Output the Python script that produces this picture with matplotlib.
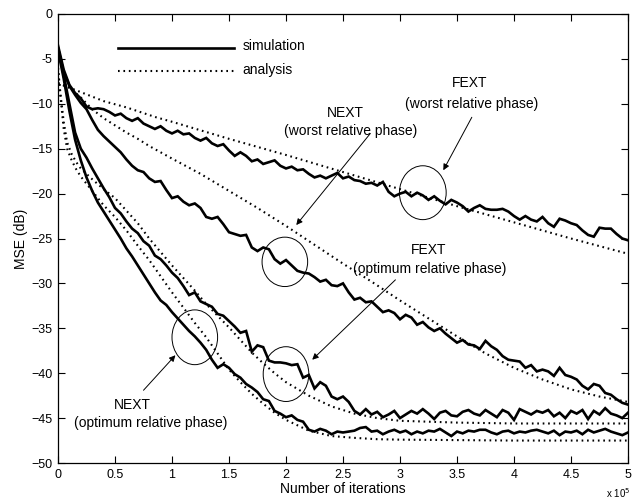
import numpy as np
import matplotlib
matplotlib.use("Agg")
import matplotlib.pyplot as plt
from matplotlib.patches import Ellipse

plt.rcParams['font.family'] = ['Liberation Sans', 'DejaVu Sans']

# ---------------- data (x in units of 1e5 iterations) ----------------
x_sim = np.linspace(0, 5, 101)

fext_worst_sim = [
    -3.5, -6.2, -7.9, -8.8, -9.4, -10.3, -10.6, -10.5, -10.6, -10.9,
    -11.3, -11.1, -11.6, -11.9, -11.6, -12.2, -12.5, -12.8, -12.5, -13.0,
    -13.3, -13.0, -13.4, -13.3, -13.8, -14.1, -13.8, -14.4, -14.7, -14.5,
    -15.2, -15.8, -15.4, -15.8, -16.4, -16.2, -16.7, -16.5, -16.3, -16.9,
    -17.2, -17.0, -17.4, -17.3, -17.8, -18.2, -18.0, -18.3, -18.0, -17.7,
    -18.3, -18.1, -18.5, -18.6, -18.9, -18.8, -19.1, -18.7, -19.8, -20.3,
    -20.0, -19.8, -20.3, -19.9, -20.2, -20.7, -20.3, -20.8, -21.2, -20.7,
    -21.0, -21.4, -22.0, -21.6, -21.3, -21.7, -21.8, -21.8, -21.7, -22.0,
    -22.5, -22.9, -22.5, -22.9, -23.1, -22.6, -23.3, -23.7, -22.8, -23.0,
    -23.3, -23.5, -24.1, -24.6, -24.8, -23.8, -23.9, -23.9, -24.5, -25.0,
    -25.2]

next_worst_sim = [
    -3.8, -6.5, -8.0, -9.0, -9.9, -10.6, -11.8, -12.9, -13.6, -14.2,
    -14.8, -15.4, -16.2, -16.9, -17.4, -17.6, -18.3, -18.7, -18.6, -19.6,
    -20.5, -20.3, -20.9, -21.3, -21.1, -21.6, -22.6, -22.8, -22.6, -23.4,
    -24.3, -24.5, -24.7, -24.6, -26.0, -26.4, -26.0, -26.2, -27.3, -27.8,
    -27.4, -28.0, -28.6, -28.8, -28.9, -29.3, -29.8, -29.6, -30.2, -30.3,
    -30.0, -31.0, -31.8, -31.6, -32.1, -32.0, -32.6, -33.2, -33.0, -33.3,
    -34.0, -33.5, -33.8, -34.6, -34.3, -34.9, -35.3, -35.0, -35.6, -36.1,
    -36.6, -36.3, -36.8, -36.9, -37.3, -36.4, -37.0, -37.4, -38.1, -38.5,
    -38.6, -38.7, -39.4, -39.1, -39.8, -39.6, -39.8, -40.3, -39.4, -40.2,
    -40.4, -40.7, -41.4, -41.8, -41.2, -41.4, -42.2, -42.4, -42.9, -43.3,
    -43.5]

fext_opt_sim = [
    -3.8, -6.8, -10.0, -13.2, -15.0, -16.0, -17.2, -18.3, -19.4, -20.4,
    -21.6, -22.2, -23.1, -23.9, -24.4, -25.3, -25.8, -26.9, -27.3, -28.0,
    -28.8, -29.4, -30.3, -31.3, -31.0, -32.0, -32.3, -32.6, -33.4, -33.6,
    -34.2, -34.8, -35.5, -35.3, -37.6, -36.9, -37.1, -38.6, -38.8, -38.8,
    -38.9, -39.1, -39.0, -40.5, -40.2, -41.7, -41.0, -41.4, -42.6, -42.9,
    -42.6, -43.2, -44.2, -44.6, -44.0, -44.6, -44.3, -44.9, -44.6, -44.2,
    -45.0, -44.6, -44.2, -44.5, -44.0, -44.5, -45.1, -44.4, -44.2, -44.7,
    -44.8, -44.3, -44.1, -44.5, -44.7, -44.1, -44.5, -44.9, -44.1, -44.4,
    -45.2, -44.0, -44.3, -44.6, -44.2, -44.4, -44.1, -44.8, -44.4, -45.0,
    -44.2, -44.5, -44.1, -45.1, -44.2, -44.6, -43.9, -44.5, -44.7, -45.0,
    -44.4]

next_opt_sim = [
    -4.0, -7.2, -10.8, -14.0, -16.3, -18.2, -19.7, -21.0, -22.0, -23.0,
    -24.0, -25.0, -26.1, -27.0, -28.0, -29.0, -30.0, -31.0, -31.9, -32.4,
    -33.2, -33.9, -34.6, -35.3, -35.9, -36.6, -37.4, -38.5, -39.4, -39.0,
    -39.4, -40.1, -40.5, -41.2, -41.6, -42.1, -42.9, -43.1, -44.2, -44.5,
    -44.9, -44.7, -45.2, -45.4, -46.3, -46.5, -46.2, -46.4, -46.8, -46.5,
    -46.6, -46.5, -46.4, -46.1, -46.0, -46.5, -46.4, -46.8, -46.5, -46.3,
    -46.6, -46.4, -46.8, -46.5, -46.7, -46.4, -46.5, -46.2, -46.6, -47.0,
    -46.5, -46.7, -46.4, -46.5, -46.3, -46.3, -46.6, -46.8, -46.5, -46.4,
    -46.7, -46.5, -46.6, -46.4, -46.3, -46.5, -46.7, -46.4, -46.9, -46.5,
    -46.6, -46.4, -46.8, -46.3, -46.6, -46.4, -46.2, -46.5, -46.7, -46.9,
    -46.6]

x_fext_worst_an = [0, 0.2, 0.4, 0.6, 0.86, 1.0, 1.5, 2.0, 2.5, 3.0, 3.5, 4.0, 4.5, 5.0]
fext_worst_an = [-7.7, -8.7, -9.7, -10.4, -11.5, -12.0, -13.9, -15.7, -17.6, -19.5,
                 -21.4, -23.2, -25.0, -26.7]

x_next_worst_an = [0, 0.1, 0.2, 0.3, 0.4, 0.5, 0.6, 0.7, 0.8, 0.9, 1.0, 1.25, 1.5, 1.75,
                   2.0, 2.25, 2.5, 2.75, 3.0, 3.25, 3.5, 3.75, 4.0, 4.25, 4.5, 4.75, 5.0]
next_worst_an = [-7.7, -8.2, -9.3, -10.6, -11.6, -12.4, -13.2, -13.9, -14.7, -15.4,
                 -16.1, -17.8, -19.7, -21.6, -23.6, -25.7, -27.8, -29.8, -31.9, -33.9,
                 -35.9, -37.8, -39.4, -40.7, -41.8, -42.6, -43.2]

x_opt_an = [0, 0.02, 0.05, 0.08, 0.12, 0.16, 0.2, 0.3, 0.4, 0.5, 0.6, 0.7, 0.8, 0.9,
            1.0, 1.1, 1.2, 1.3, 1.4, 1.5, 1.6, 1.7, 1.8, 1.9, 2.0, 2.2, 2.4, 2.6, 2.8,
            3.0, 3.5, 4.0, 4.5, 5.0]
fext_opt_an = [-6.0, -8.7, -12.0, -14.3, -15.6, -16.5, -17.2, -18.4, -19.5, -20.5,
               -21.9, -23.3, -25.0, -26.5, -28.0, -29.4, -30.8, -32.3, -33.6, -34.9,
               -36.3, -37.7, -38.9, -40.0, -41.0, -42.5, -43.7, -44.5, -45.0,
               -45.3, -45.5, -45.6, -45.6, -45.6]
next_opt_an = [-6.0, -9.0, -12.8, -15.0, -16.3, -17.3, -18.1, -19.7, -21.3, -22.6,
               -24.1, -25.8, -27.4, -29.2, -31.0, -32.7, -34.4, -36.0, -37.8, -39.6,
               -41.0, -42.3, -43.4, -44.4, -45.2, -46.4, -47.0, -47.2, -47.35,
               -47.4, -47.45, -47.5, -47.5, -47.5]

x_ticks = [0, 0.5, 1, 1.5, 2, 2.5, 3, 3.5, 4, 4.5, 5]
x_ticklabels = ['0', '0.5', '1', '1.5', '2', '2.5', '3', '3.5', '4', '4.5', '5']
y_ticks = [0, -5, -10, -15, -20, -25, -30, -35, -40, -45, -50]
y_ticklabels = ['0', '-5', '\u221210', '\u221215', '\u221220', '\u221225', '\u221230',
                '\u221235', '\u221240', '\u221245', '\u221250']

# ---------------- figure ----------------
fig = plt.figure(figsize=(6.44, 4.99), dpi=100)
ax = fig.add_axes([58/644, 1 - 463/499, 570/644, 449/499])

sim_kw = dict(color='black', lw=1.9, solid_joinstyle='miter')
an_kw = dict(color='black', lw=1.5, linestyle=(0, (0.8, 1.8)))

for ys in (fext_worst_sim, next_worst_sim, fext_opt_sim, next_opt_sim):
    ax.plot(x_sim, ys, **sim_kw)
ax.plot(x_fext_worst_an, fext_worst_an, **an_kw)
ax.plot(x_next_worst_an, next_worst_an, **an_kw)
ax.plot(x_opt_an, fext_opt_an, **an_kw)
ax.plot(x_opt_an, next_opt_an, **an_kw)

ax.set_xlim(0, 5)
ax.set_ylim(-50, 0)
ax.set_xticks(x_ticks)
ax.set_xticklabels(x_ticklabels)
ax.set_yticks(y_ticks)
ax.set_yticklabels(y_ticklabels)
ax.tick_params(direction='in', top=True, right=True, length=5, width=0.8,
               labelsize=9, pad=4)
for sp in ax.spines.values():
    sp.set_linewidth(0.9)

ax.set_xlabel('Number of iterations', fontsize=10, labelpad=1)
ax.set_ylabel('MSE (dB)', fontsize=10, labelpad=2)
fig.text(606/644, 1 - 493/499, 'x 10$^5$', fontsize=7, ha='left', va='center')

# legend drawn as in the original (lines + labels)
ax.plot([0.53, 1.54], [-3.8, -3.8], **sim_kw)
ax.plot([0.53, 1.54], [-6.35, -6.35], **an_kw)
ax.text(1.62, -3.6, 'simulation', fontsize=10, va='center', ha='left')
ax.text(1.62, -6.2, 'analysis', fontsize=10, va='center', ha='left')

# annotations
txt_kw = dict(fontsize=10, ha='center', va='center')
ax.text(3.61, -7.7, 'FEXT', **txt_kw)
ax.text(3.63, -10.0, '(worst relative phase)', **txt_kw)
ax.text(2.52, -11.0, 'NEXT', **txt_kw)
ax.text(2.57, -13.0, '(worst relative phase)', **txt_kw)
ax.text(3.25, -26.3, 'FEXT', **txt_kw)
ax.text(3.26, -28.4, '(optimum relative phase)', **txt_kw)
ax.text(0.65, -43.5, 'NEXT', **txt_kw)
ax.text(0.81, -45.5, '(optimum relative phase)', **txt_kw)

ell_kw = dict(fill=False, edgecolor='black', lw=0.7)
ax.add_patch(Ellipse((3.2, -19.9), 0.41, 6.0, **ell_kw))
ax.add_patch(Ellipse((1.99, -27.6), 0.40, 5.5, **ell_kw))
ax.add_patch(Ellipse((2.0, -40.1), 0.40, 6.1, **ell_kw))
ax.add_patch(Ellipse((1.20, -36.0), 0.40, 6.1, **ell_kw))

arr_kw = dict(arrowstyle='-|>', color='black', lw=0.7, mutation_scale=9,
              shrinkA=0, shrinkB=0)
ax.annotate('', xy=(3.38, -17.4), xytext=(3.63, -11.5), arrowprops=arr_kw)
ax.annotate('', xy=(2.09, -23.5), xytext=(2.74, -13.3), arrowprops=arr_kw)
ax.annotate('', xy=(2.23, -38.5), xytext=(2.96, -29.6), arrowprops=arr_kw)
ax.annotate('', xy=(1.03, -38.0), xytext=(0.75, -41.9), arrowprops=arr_kw)

fig.savefig('out.png', dpi=100)
